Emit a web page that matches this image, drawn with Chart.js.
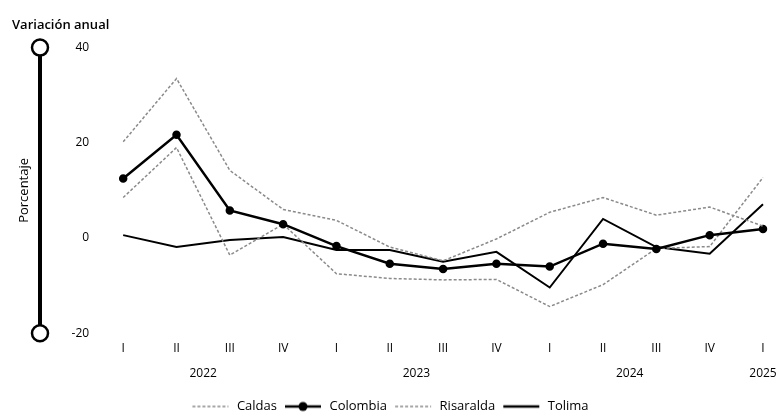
<!DOCTYPE html>
<html>
<head>
<meta charset="utf-8">
<script src="https://cdn.jsdelivr.net/npm/chart.js@4.4.0/dist/chart.umd.min.js"></script>
<style>
  html, body { margin: 0; padding: 0; background: #fff; }
  #wrap { width: 781px; height: 418px; }
</style>
</head>
<body>
<div id="wrap"><canvas id="variacion"></canvas></div>
<script>
const quarters = ["I", "II", "III", "IV", "I", "II", "III", "IV", "I", "II", "III", "IV", "I"];
const quarterYears = ["2022", "2022", "2022", "2022", "2023", "2023", "2023", "2023", "2024", "2024", "2024", "2024", "2025"];

const caldas = [20.2, 33.5, 14.2, 6.0, 3.7, -1.9, -4.8, -0.2, 5.4, 8.5, 4.8, 6.5, 2.5];
const colombia = [12.5, 21.7, 5.8, 2.9, -1.7, -5.4, -6.5, -5.4, -6.0, -1.2, -2.3, 0.6, 1.9];
const risaralda = [8.5, 19.0, -3.6, 2.9, -7.5, -8.5, -8.8, -8.7, -14.4, -9.8, -2.2, -1.8, 12.7];
const tolima = [0.6, -1.9, -0.4, 0.2, -2.5, -2.5, -5.0, -2.9, -10.4, 4.0, -1.9, -3.3, 7.1];

const yMin = -20;
const yMax = 40;
const yStep = 20;

// year labels sit in the middle of their quarters
const years = [...new Set(quarterYears)];
const yearCenters = years.map((yr) => {
  const idx = quarterYears.map((q, i) => (q === yr ? i : -1)).filter((i) => i >= 0);
  return idx.reduce((a, b) => a + b, 0) / idx.length;
});

Chart.defaults.font.family = "'Open Sans', sans-serif";
Chart.defaults.color = "#000";

const GREY = "#8a8a8a";

function legendSample(kind) {
  const c = document.createElement("canvas");
  c.width = 44;
  c.height = 12;
  const g = c.getContext("2d");
  if (kind === "dotted") {
    g.strokeStyle = GREY;
    g.lineWidth = 1.5;
    g.setLineDash([3, 2]);
  } else {
    g.strokeStyle = "#000";
    g.lineWidth = 2.5;
  }
  g.beginPath();
  g.moveTo(6, 6);
  g.lineTo(42, 6);
  g.stroke();
  if (kind === "marker") {
    g.fillStyle = "#000";
    g.beginPath();
    g.arc(24, 6, 4.5, 0, Math.PI * 2);
    g.fill();
  }
  return c;
}

// thick axis bar with hollow end caps, left of the tick labels
const axisBar = {
  id: "axisBar",
  afterDraw(chart) {
    const { ctx } = chart;
    const y = chart.scales.y;
    const x = 40;
    const top = y.getPixelForValue(y.max);
    const bottom = y.getPixelForValue(y.min);
    ctx.save();
    ctx.strokeStyle = "#000";
    ctx.lineWidth = 4;
    ctx.beginPath();
    ctx.moveTo(x, top);
    ctx.lineTo(x, bottom);
    ctx.stroke();
    ctx.lineWidth = 2.5;
    ctx.fillStyle = "#fff";
    [top, bottom].forEach((py) => {
      ctx.beginPath();
      ctx.arc(x, py, 8, 0, Math.PI * 2);
      ctx.fill();
      ctx.stroke();
    });
    ctx.restore();
  },
};

const samples = {
  Caldas: legendSample("dotted"),
  Colombia: legendSample("marker"),
  Risaralda: legendSample("dotted"),
  Tolima: legendSample("solid"),
};

new Chart(document.getElementById("variacion"), {
  type: "line",
  plugins: [axisBar],
  data: {
    labels: quarters,
    datasets: [
      {
        label: "Caldas",
        data: caldas,
        borderColor: GREY,
        borderWidth: 1.5,
        borderDash: [3, 2],
        pointRadius: 0,
        tension: 0,
      },
      {
        label: "Colombia",
        data: colombia,
        borderColor: "#000",
        backgroundColor: "#000",
        borderWidth: 2.5,
        pointRadius: 3,
        pointHoverRadius: 3,
        tension: 0,
      },
      {
        label: "Risaralda",
        data: risaralda,
        borderColor: GREY,
        borderWidth: 1.5,
        borderDash: [3, 2],
        pointRadius: 0,
        tension: 0,
      },
      {
        label: "Tolima",
        data: tolima,
        borderColor: "#000",
        borderWidth: 2,
        pointRadius: 0,
        tension: 0,
      },
    ],
  },
  options: {
    responsive: true,
    maintainAspectRatio: false,
    animation: false,
    layout: { padding: { left: 12, right: 18, top: 0, bottom: -5 } },
    plugins: {
      title: {
        display: true,
        text: "Variación anual",
        align: "start",
        font: { size: 13, weight: "600" },
        color: "#000",
        padding: { top: 17, bottom: 15 },
      },
      legend: {
        position: "bottom",
        labels: {
          usePointStyle: true,
          pointStyleWidth: 44,
          padding: 2,
          font: { size: 13 },
          color: "#000",
          generateLabels: (chart) =>
            chart.data.datasets.map((ds, i) => ({
              text: ds.label,
              pointStyle: samples[ds.label],
              datasetIndex: i,
              hidden: false,
              lineWidth: 0,
              strokeStyle: "rgba(0,0,0,0)",
              fillStyle: "rgba(0,0,0,0)",
            })),
        },
      },
      tooltip: { enabled: false },
    },
    scales: {
      x: {
        type: "category",
        grid: { display: false, drawTicks: false },
        border: { display: false },
        ticks: { font: { size: 12 }, padding: 8, autoSkip: false, maxRotation: 0 },
      },
      x2: {
        type: "linear",
        position: "bottom",
        min: 0,
        max: quarters.length - 1,
        grid: { display: false, drawTicks: false },
        border: { display: false },
        afterBuildTicks: (scale) => {
          scale.ticks = yearCenters.map((v) => ({ value: v }));
        },
        afterFit: (scale) => {
          scale.height += 14;
        },
        ticks: {
          font: { size: 12 },
          padding: 3,
          autoSkip: false,
          maxRotation: 0,
          callback: (v) => years[yearCenters.indexOf(v)],
        },
      },
      y: {
        min: yMin,
        max: yMax,
        grid: { display: false, drawTicks: false },
        border: { display: false },
        ticks: { stepSize: yStep, font: { size: 12 }, padding: 34 },
        title: {
          display: true,
          text: "Porcentaje",
          font: { size: 13 },
          color: "#000",
          padding: { top: 4, bottom: 6 },
        },
      },
    },
  },
});
</script>
</body>
</html>
